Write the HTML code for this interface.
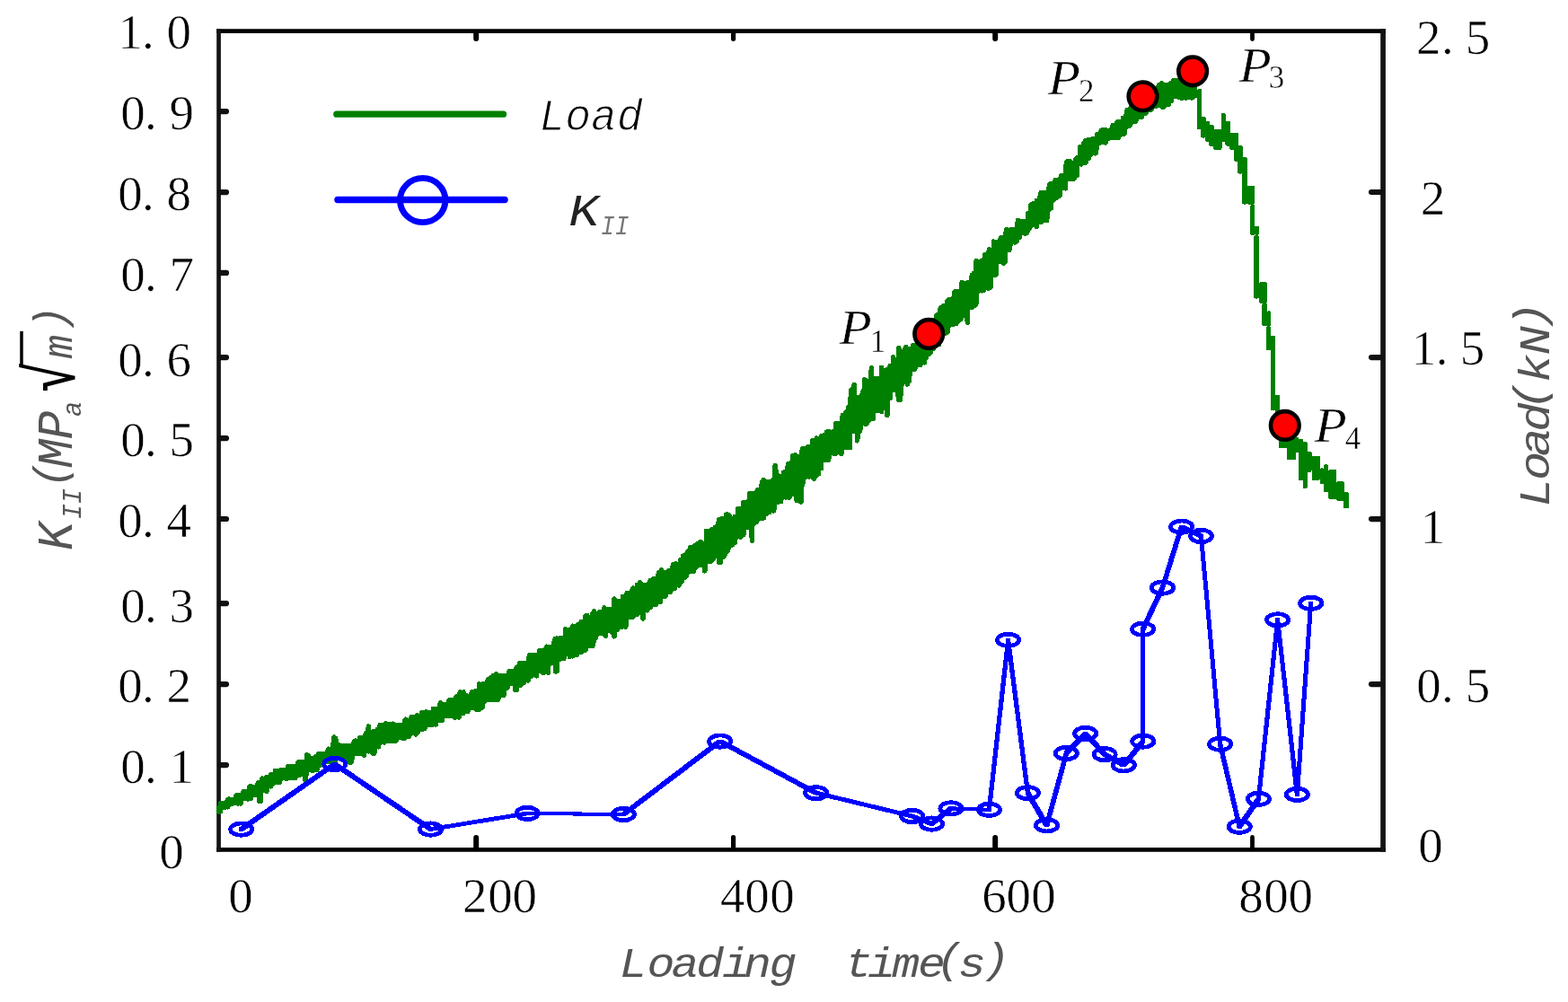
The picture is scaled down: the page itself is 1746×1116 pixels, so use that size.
<!DOCTYPE html>
<html lang="en"><head><meta charset="utf-8"><title>Load and K_II versus loading time</title>
<style>html,body{margin:0;padding:0;background:#fff;overflow:hidden}svg{display:block}.tk{font-family:"Liberation Serif",serif;font-size:55px;fill:#000;text-anchor:middle;stroke:#fff;stroke-width:0.6px}.mono{font-family:"Liberation Mono",monospace;font-style:italic}.pl{font-family:"Liberation Serif",serif;font-style:italic;fill:#000}.ps{font-family:"Liberation Serif",serif;fill:#000}</style></head><body>
<svg width="1746" height="1116" viewBox="0 0 1746 1116">
<rect x="0" y="0" width="1746" height="1116" fill="#fff"/>
<g stroke-linecap="butt" fill="none">
<line x1="241.2" y1="34.6" x2="1542.9" y2="34.6" stroke="#000" stroke-width="4.8"/>
<line x1="241.2" y1="946.4" x2="1542.9" y2="946.4" stroke="#000" stroke-width="4.8"/>
<line x1="243.55" y1="32.2" x2="243.55" y2="948.8" stroke="#141414" stroke-width="4.7"/>
<line x1="1540.05" y1="32.2" x2="1540.05" y2="948.8" stroke="#141414" stroke-width="5.7"/>
</g>
<g stroke="#111" stroke-width="6.2" stroke-linecap="round" fill="none">
<line x1="245" y1="124.1" x2="252.0" y2="124.1"/>
<line x1="245" y1="214.1" x2="252.0" y2="214.1"/>
<line x1="245" y1="303.9" x2="252.0" y2="303.9"/>
<line x1="245" y1="398.1" x2="252.0" y2="398.1"/>
<line x1="245" y1="488.1" x2="252.0" y2="488.1"/>
<line x1="245" y1="578.0" x2="252.0" y2="578.0"/>
<line x1="245" y1="672.1" x2="252.0" y2="672.1"/>
<line x1="245" y1="762.1" x2="252.0" y2="762.1"/>
<line x1="245" y1="852.1" x2="252.0" y2="852.1"/>
<line x1="1527.0" y1="214.0" x2="1538" y2="214.0"/>
<line x1="1527.0" y1="398.1" x2="1538" y2="398.1"/>
<line x1="1527.0" y1="578.1" x2="1538" y2="578.1"/>
<line x1="1527.0" y1="762.1" x2="1538" y2="762.1"/>
</g>
<g stroke="#000" stroke-linecap="round" fill="none">
<line x1="530.2" y1="933.0" x2="530.2" y2="945" stroke-width="6.0"/>
<line x1="530.2" y1="36" x2="530.2" y2="42.9" stroke-width="6.0"/>
<line x1="816.6" y1="932.6" x2="816.6" y2="945" stroke-width="5.2"/>
<line x1="816.6" y1="36" x2="816.6" y2="43.3" stroke-width="5.2"/>
<line x1="1108.2" y1="933.0" x2="1108.2" y2="945" stroke-width="6.0"/>
<line x1="1108.2" y1="36" x2="1108.2" y2="42.9" stroke-width="6.0"/>
<line x1="1394.5" y1="932.4" x2="1394.5" y2="945" stroke-width="4.8"/>
<line x1="1394.5" y1="36" x2="1394.5" y2="43.5" stroke-width="4.8"/>
</g>
<g fill="none" stroke="#008000" stroke-width="5.5" stroke-linejoin="round" stroke-linecap="round" shape-rendering="crispEdges">
<path d="M243.9 899.5 L243.9 904.0 L245.5 903.7 L245.5 894.7 L247.1 895.1 L247.1 898.6 L248.7 899.2 L248.7 895.1 L250.3 894.4 L250.3 898.8 L251.9 898.8 L251.9 895.1 L253.5 890.5 L253.5 898.8 L255.1 895.1 L255.1 890.0 L256.7 890.8 L256.7 894.2 L258.3 895.1 L258.3 890.5 L259.9 890.3 L259.9 894.2 L261.6 894.2 L261.6 889.9 L263.2 885.9 L263.2 894.2 L264.8 894.9 L264.8 885.9 L266.4 885.9 L266.4 894.5 L268.0 894.9 L268.0 885.9 L269.6 885.9 L269.6 890.0 L271.2 889.6 L271.2 881.3 L272.8 881.3 L272.8 889.6 L274.4 889.6 L274.4 881.3 L276.0 881.3 L276.0 890.0 L277.6 889.6 L277.6 876.7 L279.2 875.6 L279.2 889.6 L280.8 885.0 L280.8 876.8 L282.4 876.7 L282.4 885.0 L284.0 885.0 L284.0 876.7 L285.6 876.5 L285.6 885.0 L287.2 884.9 L287.2 872.1 L288.8 872.1 L288.8 892.0 L290.4 892.0 L290.4 872.1 L292.0 867.1 L292.0 880.4 L293.6 880.2 L293.6 867.5 L295.2 867.5 L295.2 880.4 L296.8 881.6 L296.8 866.0 L298.4 867.5 L298.4 875.8 L300.0 875.8 L300.0 867.5 L301.6 862.8 L301.6 875.9 L303.2 871.0 L303.2 862.9 L304.8 862.9 L304.8 872.2 L306.4 871.2 L306.4 858.5 L308.0 858.3 L308.0 871.2 L309.6 871.2 L309.6 858.3 L311.2 858.3 L311.2 871.2 L312.8 866.6 L312.8 857.7 L314.4 857.8 L314.4 866.6 L316.0 866.6 L316.0 858.3 L317.6 857.4 L317.6 866.8 L319.2 867.3 L319.2 858.1 L320.8 853.7 L320.8 866.6 L322.4 866.6 L322.4 853.7 L324.0 853.7 L324.0 866.3 L325.6 866.6 L325.6 853.7 L327.2 854.1 L327.2 866.6 L328.8 866.6 L328.8 853.7 L330.4 854.1 L330.4 862.2 L332.0 862.6 L332.0 849.1 L333.6 849.1 L333.6 863.4 L335.2 862.5 L335.2 849.1 L336.8 849.1 L336.8 862.0 L338.4 862.9 L338.4 849.1 L340.0 848.3 L340.0 868.6 L341.6 859.3 L341.6 840.7 L343.2 841.6 L343.2 857.0 L344.8 857.4 L344.8 844.5 L346.4 844.5 L346.4 857.4 L348.0 858.3 L348.0 844.5 L349.6 844.5 L349.6 857.4 L351.2 857.4 L351.2 843.1 L352.8 844.5 L352.8 857.4 L354.4 852.8 L354.4 839.9 L356.0 839.9 L356.0 852.8 L357.6 848.3 L357.6 839.9 L359.2 839.9 L359.2 848.5 L360.8 848.2 L360.8 839.4 L362.4 839.9 L362.4 848.2 L364.0 848.4 L364.0 839.9 L365.6 834.3 L365.6 848.2 L367.2 848.1 L367.2 835.3 L368.8 834.2 L368.8 848.2 L370.4 848.2 L370.4 835.6 L372.0 820.9 L372.0 850.2 L373.6 852.1 L373.6 822.2 L375.2 830.7 L375.2 843.6 L376.8 843.6 L376.8 829.6 L378.4 830.7 L378.4 843.6 L380.0 843.6 L380.0 830.8 L381.6 830.7 L381.6 843.6 L383.2 843.9 L383.2 830.7 L384.8 830.7 L384.8 843.6 L386.4 845.0 L386.4 830.7 L388.0 830.7 L388.0 843.6 L389.6 849.6 L389.6 830.7 L391.2 830.7 L391.2 849.1 L392.8 839.9 L392.8 830.7 L394.4 826.1 L394.4 839.0 L396.0 839.0 L396.0 825.0 L397.6 826.1 L397.6 839.4 L399.2 838.6 L399.2 826.1 L400.8 821.5 L400.8 839.4 L402.4 838.6 L402.4 821.5 L404.0 821.5 L404.0 839.0 L405.6 840.9 L405.6 821.5 L407.2 817.2 L407.2 835.2 L408.8 834.4 L408.8 818.3 L410.4 808.9 L410.4 836.8 L412.0 834.4 L412.0 816.9 L413.6 816.9 L413.6 829.9 L415.2 839.0 L415.2 814.8 L416.8 816.9 L416.8 839.0 L418.4 830.2 L418.4 816.9 L420.0 812.8 L420.0 830.0 L421.6 831.7 L421.6 812.3 L423.2 807.5 L423.2 827.1 L424.8 826.4 L424.8 807.7 L426.4 807.7 L426.4 824.9 L428.0 827.0 L428.0 807.7 L429.6 806.1 L429.6 824.9 L431.2 825.2 L431.2 807.2 L432.8 806.5 L432.8 825.2 L434.4 825.2 L434.4 807.7 L436.0 807.7 L436.0 825.2 L437.6 825.2 L437.6 806.1 L439.2 807.7 L439.2 825.2 L440.8 825.2 L440.8 807.7 L442.4 807.7 L442.4 820.6 L444.0 821.3 L444.0 807.7 L445.6 807.7 L445.6 820.6 L447.2 820.6 L447.2 807.7 L448.8 807.7 L448.8 822.2 L450.4 822.2 L450.4 803.5 L452.0 801.3 L452.0 820.6 L453.6 820.6 L453.6 803.1 L455.2 803.1 L455.2 820.6 L456.8 817.1 L456.8 802.4 L458.4 798.5 L458.4 816.0 L460.0 816.0 L460.0 798.5 L461.6 798.5 L461.6 816.0 L463.2 817.8 L463.2 798.5 L464.8 796.7 L464.8 816.0 L466.4 811.4 L466.4 798.4 L468.0 798.5 L468.0 812.0 L469.6 812.7 L469.6 793.9 L471.2 793.9 L471.2 811.4 L472.8 811.4 L472.8 793.9 L474.4 792.8 L474.4 806.8 L476.0 807.5 L476.0 793.9 L477.6 794.1 L477.6 806.8 L479.2 806.8 L479.2 793.9 L480.8 793.9 L480.8 806.8 L482.4 806.8 L482.4 789.3 L484.0 789.8 L484.0 806.8 L485.6 806.8 L485.6 789.3 L487.2 789.3 L487.2 802.4 L488.8 802.2 L488.8 789.3 L490.4 782.9 L490.4 802.2 L492.0 802.2 L492.0 784.7 L493.6 784.7 L493.6 797.6 L495.2 797.3 L495.2 784.7 L496.8 784.7 L496.8 797.6 L498.4 797.6 L498.4 784.7 L500.0 780.1 L500.0 797.6 L501.6 797.6 L501.6 780.1 L503.2 780.1 L503.2 797.6 L504.8 797.6 L504.8 780.1 L506.4 780.1 L506.4 799.1 L508.0 798.5 L508.0 775.9 L509.6 775.5 L509.6 797.6 L511.2 798.8 L511.2 773.8 L512.8 770.9 L512.8 792.8 L514.4 793.0 L514.4 771.7 L516.0 770.9 L516.0 794.5 L517.6 788.4 L517.6 775.5 L519.2 774.9 L519.2 788.4 L520.8 792.6 L520.8 775.7 L522.4 775.5 L522.4 788.4 L524.0 788.4 L524.0 775.5 L525.6 770.9 L525.6 787.9 L527.2 788.4 L527.2 770.9 L528.8 770.9 L528.8 787.8 L530.4 790.1 L530.4 769.3 L532.0 770.9 L532.0 789.7 L533.6 790.5 L533.6 761.7 L535.2 762.7 L535.2 788.6 L536.8 788.4 L536.8 762.2 L538.4 761.7 L538.4 779.8 L540.0 781.1 L540.0 761.7 L541.6 761.7 L541.6 779.2 L543.2 779.2 L543.2 757.1 L544.8 757.1 L544.8 779.4 L546.4 779.2 L546.4 755.1 L548.0 757.1 L548.0 779.2 L549.6 779.2 L549.6 752.5 L551.2 752.5 L551.2 779.2 L552.8 779.2 L552.8 750.6 L554.4 752.5 L554.4 779.2 L556.0 774.6 L556.0 752.5 L557.6 752.5 L557.6 774.6 L559.2 774.6 L559.2 752.5 L560.8 752.5 L560.8 774.6 L562.4 765.4 L562.4 752.5 L564.0 752.5 L564.0 766.8 L565.6 765.4 L565.6 752.3 L567.2 747.6 L567.2 760.8 L568.8 760.8 L568.8 747.9 L570.4 747.9 L570.4 760.8 L572.0 762.0 L572.0 747.9 L573.6 747.9 L573.6 768.0 L575.2 768.0 L575.2 743.3 L576.8 743.1 L576.8 762.3 L578.4 760.8 L578.4 738.8 L580.0 738.8 L580.0 763.2 L581.6 760.8 L581.6 738.8 L583.2 738.8 L583.2 760.8 L584.8 751.6 L584.8 738.8 L586.4 739.2 L586.4 751.6 L588.0 758.0 L588.0 738.8 L589.6 729.5 L589.6 751.6 L591.2 753.3 L591.2 729.5 L592.8 729.5 L592.8 751.6 L594.4 751.6 L594.4 729.5 L596.0 729.5 L596.0 751.6 L597.6 752.8 L597.6 729.5 L599.2 729.5 L599.2 747.0 L600.8 747.0 L600.8 724.9 L602.4 725.1 L602.4 747.0 L604.0 748.4 L604.0 724.9 L605.6 724.2 L605.6 749.5 L607.2 747.0 L607.2 724.9 L608.8 720.3 L608.8 747.0 L610.4 749.5 L610.4 720.3 L612.0 720.3 L612.0 737.8 L613.6 738.7 L613.6 720.5 L615.2 720.3 L615.2 738.3 L616.8 737.8 L616.8 715.2 L618.4 711.4 L618.4 747.8 L620.0 747.8 L620.0 711.1 L621.6 711.9 L621.6 733.3 L623.2 734.3 L623.2 711.1 L624.8 711.1 L624.8 733.2 L626.4 733.2 L626.4 711.2 L628.0 711.1 L628.0 733.2 L629.6 728.6 L629.6 700.6 L631.2 701.9 L631.2 728.4 L632.8 728.3 L632.8 702.1 L634.4 701.9 L634.4 731.6 L636.0 728.6 L636.0 701.9 L637.6 697.3 L637.6 730.8 L639.2 727.8 L639.2 697.3 L640.8 697.3 L640.8 728.6 L642.4 729.4 L642.4 697.7 L644.0 695.8 L644.0 724.0 L645.6 724.0 L645.6 697.3 L647.2 692.8 L647.2 726.6 L648.8 724.0 L648.8 693.2 L650.4 692.8 L650.4 724.0 L652.0 724.0 L652.0 685.8 L653.6 685.6 L653.6 719.4 L655.2 719.4 L655.2 688.1 L656.8 688.1 L656.8 719.4 L658.4 719.4 L658.4 688.1 L660.0 683.5 L660.0 719.4 L661.6 711.1 L661.6 680.9 L663.2 684.4 L663.2 710.2 L664.8 705.6 L664.8 683.5 L666.4 684.0 L666.4 705.6 L668.0 705.6 L668.0 681.3 L669.6 683.5 L669.6 705.6 L671.2 705.6 L671.2 683.5 L672.8 676.9 L672.8 705.6 L674.4 708.4 L674.4 678.9 L676.0 679.7 L676.0 703.1 L677.6 701.0 L677.6 678.9 L679.2 678.9 L679.2 701.0 L680.8 703.3 L680.8 679.2 L682.4 678.9 L682.4 703.5 L684.0 708.8 L684.0 667.0 L685.6 669.6 L685.6 701.0 L687.2 701.0 L687.2 669.8 L688.8 669.8 L688.8 696.4 L690.4 696.1 L690.4 669.8 L692.0 669.8 L692.0 698.4 L693.6 696.4 L693.6 664.5 L695.2 665.1 L695.2 696.5 L696.8 698.1 L696.8 665.1 L698.4 660.5 L698.4 687.2 L700.0 687.2 L700.0 660.5 L701.6 660.5 L701.6 687.2 L703.2 687.2 L703.2 660.5 L704.8 655.0 L704.8 687.2 L706.4 682.6 L706.4 655.9 L708.0 655.9 L708.0 682.6 L709.6 684.5 L709.6 651.3 L711.2 651.3 L711.2 682.6 L712.8 678.0 L712.8 649.0 L714.4 651.3 L714.4 678.0 L716.0 689.0 L716.0 651.3 L717.6 651.3 L717.6 678.0 L719.2 678.0 L719.2 651.3 L720.8 651.3 L720.8 679.9 L722.4 673.4 L722.4 651.3 L724.0 646.8 L724.0 676.3 L725.6 674.3 L725.6 646.8 L727.2 644.7 L727.2 673.4 L728.8 673.4 L728.8 646.8 L730.4 644.2 L730.4 673.4 L732.0 668.8 L732.0 646.8 L733.6 637.5 L733.6 668.8 L735.2 670.2 L735.2 637.7 L736.8 634.7 L736.8 664.2 L738.4 664.2 L738.4 637.5 L740.0 637.5 L740.0 664.2 L741.6 663.3 L741.6 637.5 L743.2 637.5 L743.2 659.6 L744.8 659.6 L744.8 635.5 L746.4 636.2 L746.4 659.6 L748.0 655.0 L748.0 637.5 L749.6 628.3 L749.6 655.0 L751.2 655.0 L751.2 628.3 L752.8 628.0 L752.8 650.4 L754.4 650.4 L754.4 628.3 L756.0 628.3 L756.0 652.1 L757.6 645.9 L757.6 623.8 L759.2 623.8 L759.2 647.9 L760.8 642.6 L760.8 619.1 L762.4 619.5 L762.4 643.6 L764.0 641.8 L764.0 619.1 L765.6 614.6 L765.6 636.0 L767.2 636.9 L767.2 614.9 L768.8 609.9 L768.8 636.6 L770.4 636.6 L770.4 609.9 L772.0 608.9 L772.0 636.6 L773.6 632.0 L773.6 607.9 L775.2 610.5 L775.2 632.0 L776.8 626.9 L776.8 605.3 L778.4 605.3 L778.4 627.4 L780.0 629.7 L780.0 603.3 L781.6 604.7 L781.6 627.4 L783.2 627.4 L783.2 605.3 L784.8 605.3 L784.8 635.9 L786.4 622.8 L786.4 591.5 L788.0 592.2 L788.0 622.5 L789.6 622.8 L789.6 591.5 L791.2 591.5 L791.2 625.8 L792.8 622.8 L792.8 589.9 L794.4 591.5 L794.4 622.8 L796.0 618.2 L796.0 587.4 L797.6 587.1 L797.6 618.2 L799.2 618.2 L799.2 585.8 L800.8 578.6 L800.8 626.3 L802.4 626.3 L802.4 580.4 L804.0 577.8 L804.0 618.2 L805.6 620.0 L805.6 577.8 L807.2 577.8 L807.2 618.2 L808.8 613.4 L808.8 573.1 L810.4 573.1 L810.4 613.6 L812.0 604.4 L812.0 574.1 L813.6 577.8 L813.6 604.0 L815.2 607.1 L815.2 578.1 L816.8 578.3 L816.8 605.2 L818.4 604.4 L818.4 575.3 L820.0 577.8 L820.0 595.2 L821.6 597.8 L821.6 566.8 L823.2 567.2 L823.2 595.2 L824.8 598.2 L824.8 568.5 L826.4 566.1 L826.4 596.0 L828.0 595.4 L828.0 559.3 L829.6 559.3 L829.6 585.1 L831.2 587.2 L831.2 559.3 L832.8 558.8 L832.8 586.0 L834.4 587.5 L834.4 550.1 L836.0 550.1 L836.0 586.0 L837.6 602.4 L837.6 550.1 L839.2 549.8 L839.2 584.1 L840.8 580.8 L840.8 550.1 L842.4 548.0 L842.4 581.4 L844.0 576.8 L844.0 545.5 L845.6 545.5 L845.6 576.8 L847.2 577.2 L847.2 545.5 L848.8 536.3 L848.8 577.2 L850.4 576.8 L850.4 534.3 L852.0 536.3 L852.0 572.2 L853.6 572.2 L853.6 536.3 L855.2 536.3 L855.2 570.0 L856.8 570.5 L856.8 536.3 L858.4 536.3 L858.4 567.6 L860.0 567.6 L860.0 535.1 L861.6 536.3 L861.6 569.0 L863.2 558.4 L863.2 518.5 L864.8 532.1 L864.8 558.4 L866.4 559.2 L866.4 529.9 L868.0 531.8 L868.0 558.4 L869.6 558.4 L869.6 531.8 L871.2 530.4 L871.2 553.8 L872.8 553.8 L872.8 526.1 L874.4 527.1 L874.4 553.8 L876.0 553.8 L876.0 527.1 L877.6 516.8 L877.6 553.8 L879.2 553.8 L879.2 517.0 L880.8 515.9 L880.8 549.2 L882.4 550.3 L882.4 507.8 L884.0 508.7 L884.0 549.2 L885.6 549.2 L885.6 506.6 L887.2 508.7 L887.2 557.7 L888.8 556.3 L888.8 509.7 L890.4 508.5 L890.4 558.5 L892.0 559.0 L892.0 508.7 L893.6 499.5 L893.6 540.0 L895.2 530.8 L895.2 499.5 L896.8 499.5 L896.8 530.8 L898.4 530.8 L898.4 499.5 L900.0 497.4 L900.0 530.8 L901.6 530.8 L901.6 499.5 L903.2 499.5 L903.2 530.8 L904.8 530.8 L904.8 490.3 L906.4 490.3 L906.4 533.1 L908.0 530.8 L908.0 491.0 L909.6 488.1 L909.6 521.6 L911.2 528.1 L911.2 490.3 L912.8 490.9 L912.8 521.6 L914.4 521.6 L914.4 485.7 L916.0 485.7 L916.0 512.4 L917.6 512.5 L917.6 484.6 L919.2 485.7 L919.2 511.8 L920.8 512.4 L920.8 481.1 L922.4 481.1 L922.4 512.4 L924.0 505.1 L924.0 481.1 L925.6 481.5 L925.6 504.6 L927.2 503.2 L927.2 481.1 L928.8 481.1 L928.8 505.3 L930.4 505.3 L930.4 471.9 L932.0 471.9 L932.0 503.0 L933.6 503.2 L933.6 471.9 L935.2 472.1 L935.2 503.2 L936.8 505.4 L936.8 472.1 L938.4 462.7 L938.4 498.6 L940.0 498.6 L940.0 462.4 L941.6 459.9 L941.6 498.7 L943.2 498.6 L943.2 462.7 L944.8 453.5 L944.8 498.6 L946.4 498.6 L946.4 452.1 L948.0 434.1 L948.0 480.2 L949.6 480.2 L949.6 434.1 L951.2 428.8 L951.2 480.2 L952.8 480.5 L952.8 444.3 L954.4 442.4 L954.4 490.8 L956.0 480.7 L956.0 442.3 L957.6 444.3 L957.6 480.2 L959.2 471.1 L959.2 444.3 L960.8 435.9 L960.8 471.0 L962.4 471.0 L962.4 422.7 L964.0 423.3 L964.0 472.6 L965.6 471.0 L965.6 435.1 L967.2 433.3 L967.2 468.3 L968.8 466.9 L968.8 435.1 L970.4 409.9 L970.4 466.4 L972.0 466.4 L972.0 421.3 L973.6 421.3 L973.6 457.2 L975.2 457.2 L975.2 421.8 L976.8 421.3 L976.8 456.6 L978.4 457.2 L978.4 421.3 L980.0 421.3 L980.0 457.2 L981.6 458.6 L981.6 409.5 L983.2 421.3 L983.2 449.5 L984.8 448.0 L984.8 421.3 L986.4 412.1 L986.4 450.0 L988.0 462.7 L988.0 412.1 L989.6 412.1 L989.6 443.4 L991.2 443.4 L991.2 407.5 L992.8 407.5 L992.8 434.2 L994.4 434.2 L994.4 397.7 L996.0 400.7 L996.0 433.5 L997.6 434.2 L997.6 400.8 L999.2 402.3 L999.2 434.2 L1000.8 445.3 L1000.8 387.4 L1002.4 402.9 L1002.4 445.3 L1004.0 427.5 L1004.0 402.9 L1005.6 402.9 L1005.6 425.0 L1007.2 425.0 L1007.2 389.1 L1008.8 386.4 L1008.8 425.0 L1010.4 428.0 L1010.4 389.1 L1012.0 389.1 L1012.0 425.0 L1013.6 411.1 L1013.6 389.1 L1015.2 389.1 L1015.2 411.2 L1016.8 411.2 L1016.8 384.5 L1018.4 384.5 L1018.4 411.2 L1020.0 406.6 L1020.0 384.5 L1021.6 384.8 L1021.6 406.6 L1023.2 406.4 L1023.2 384.5 L1024.8 375.3 L1024.8 406.6 L1026.4 397.4 L1026.4 375.3 L1028.0 375.3 L1028.0 398.4 L1029.6 403.8 L1029.6 375.3 L1031.2 375.3 L1031.2 398.3 L1032.8 392.3 L1032.8 375.3 L1034.4 356.9 L1034.4 394.7 L1036.0 392.8 L1036.0 356.9 L1037.6 356.7 L1037.6 388.2 L1039.2 388.2 L1039.2 356.9 L1040.8 356.9 L1040.8 383.6 L1042.4 383.6 L1042.4 352.3 L1044.0 350.5 L1044.0 383.6 L1045.6 383.6 L1045.6 351.2 L1047.2 343.1 L1047.2 369.8 L1048.8 369.8 L1048.8 343.1 L1050.4 340.9 L1050.4 371.0 L1052.0 371.4 L1052.0 343.1 L1053.6 341.7 L1053.6 370.8 L1055.2 369.8 L1055.2 334.7 L1056.8 333.9 L1056.8 360.6 L1058.4 361.7 L1058.4 334.3 L1060.0 333.9 L1060.0 360.6 L1061.6 361.5 L1061.6 333.9 L1063.2 324.8 L1063.2 360.6 L1064.8 360.7 L1064.8 324.8 L1066.4 324.8 L1066.4 358.6 L1068.0 356.0 L1068.0 324.5 L1069.6 323.8 L1069.6 356.0 L1071.2 351.4 L1071.2 314.7 L1072.8 315.5 L1072.8 351.1 L1074.4 351.4 L1074.4 315.5 L1076.0 315.5 L1076.0 351.4 L1077.6 359.5 L1077.6 314.6 L1079.2 314.4 L1079.2 342.2 L1080.8 342.2 L1080.8 315.5 L1082.4 306.3 L1082.4 342.2 L1084.0 337.6 L1084.0 304.8 L1085.6 303.7 L1085.6 340.5 L1087.2 337.6 L1087.2 290.7 L1088.8 291.3 L1088.8 323.8 L1090.4 323.8 L1090.4 292.5 L1092.0 292.5 L1092.0 323.6 L1093.6 323.8 L1093.6 290.1 L1095.2 289.7 L1095.2 323.8 L1096.8 314.6 L1096.8 283.3 L1098.4 283.3 L1098.4 314.6 L1100.0 320.9 L1100.0 283.3 L1101.6 277.8 L1101.6 320.9 L1103.2 319.9 L1103.2 278.8 L1104.8 278.8 L1104.8 305.4 L1106.4 305.5 L1106.4 269.1 L1108.0 269.5 L1108.0 306.3 L1109.6 305.4 L1109.6 269.5 L1111.2 269.5 L1111.2 291.6 L1112.8 291.6 L1112.8 269.6 L1114.4 264.9 L1114.4 291.6 L1116.0 291.6 L1116.0 264.9 L1117.6 264.9 L1117.6 293.3 L1119.2 291.6 L1119.2 264.9 L1120.8 255.4 L1120.8 278.9 L1122.4 277.8 L1122.4 260.3 L1124.0 260.1 L1124.0 278.6 L1125.6 268.6 L1125.6 255.7 L1127.2 255.7 L1127.2 268.6 L1128.8 268.6 L1128.8 256.1 L1130.4 255.7 L1130.4 269.9 L1132.0 268.6 L1132.0 254.8 L1133.6 245.3 L1133.6 264.0 L1135.2 264.0 L1135.2 246.5 L1136.8 246.5 L1136.8 259.4 L1138.4 259.4 L1138.4 246.5 L1140.0 246.5 L1140.0 259.4 L1141.6 260.5 L1141.6 246.5 L1143.2 246.5 L1143.2 259.4 L1144.8 256.3 L1144.8 237.3 L1146.4 237.3 L1146.4 254.8 L1148.0 250.2 L1148.0 227.9 L1149.6 227.7 L1149.6 250.1 L1151.2 250.2 L1151.2 226.5 L1152.8 228.1 L1152.8 250.2 L1154.4 252.6 L1154.4 223.5 L1156.0 223.5 L1156.0 245.6 L1157.6 245.6 L1157.6 221.5 L1159.2 214.3 L1159.2 247.3 L1160.8 245.3 L1160.8 214.3 L1162.4 214.3 L1162.4 245.6 L1164.0 245.6 L1164.0 214.3 L1165.6 214.3 L1165.6 245.6 L1167.2 231.8 L1167.2 214.3 L1168.8 205.1 L1168.8 231.5 L1170.4 231.8 L1170.4 205.1 L1172.0 205.1 L1172.0 223.5 L1173.6 222.6 L1173.6 204.7 L1175.2 200.5 L1175.2 218.0 L1176.8 220.0 L1176.8 201.2 L1178.4 200.5 L1178.4 218.2 L1180.0 218.0 L1180.0 201.0 L1181.6 195.9 L1181.6 208.8 L1183.2 208.8 L1183.2 195.9 L1184.8 195.9 L1184.8 209.2 L1186.4 209.9 L1186.4 186.8 L1188.0 179.9 L1188.0 199.6 L1189.6 199.6 L1189.6 179.9 L1191.2 179.9 L1191.2 199.6 L1192.8 199.5 L1192.8 186.8 L1194.4 186.1 L1194.4 199.6 L1196.0 199.2 L1196.0 186.8 L1197.6 177.5 L1197.6 195.0 L1199.2 195.0 L1199.2 176.1 L1200.8 177.4 L1200.8 181.4 L1202.4 181.0 L1202.4 163.8 L1204.0 163.8 L1204.0 183.1 L1205.6 181.2 L1205.6 163.8 L1207.2 159.1 L1207.2 181.2 L1208.8 181.2 L1208.8 156.7 L1210.4 157.3 L1210.4 176.6 L1212.0 176.6 L1212.0 155.3 L1213.5 159.1 L1213.5 172.0 L1215.1 172.0 L1215.1 158.2 L1216.7 154.5 L1216.7 162.8 L1218.3 163.6 L1218.3 154.5 L1219.9 154.5 L1219.9 170.9 L1221.5 163.2 L1221.5 149.9 L1223.1 149.9 L1223.1 158.2 L1224.7 159.2 L1224.7 149.9 L1226.3 145.3 L1226.3 158.2 L1227.9 158.6 L1227.9 144.5 L1229.5 144.3 L1229.5 158.0 L1231.1 158.9 L1231.1 144.8 L1232.7 145.3 L1232.7 153.6 L1234.3 154.2 L1234.3 145.3 L1235.9 145.6 L1235.9 153.6 L1237.5 153.6 L1237.5 145.3 L1239.1 139.4 L1239.1 153.6 L1240.7 153.6 L1240.7 140.8 L1242.3 139.3 L1242.3 153.6 L1243.9 153.6 L1243.9 136.1 L1245.5 136.1 L1245.5 153.6 L1247.1 149.0 L1247.1 136.1 L1248.7 136.1 L1248.7 149.0 L1250.3 149.0 L1250.3 131.5 L1251.9 131.7 L1251.9 149.0 L1253.5 139.8 L1253.5 131.5 L1255.1 122.3 L1255.1 139.8 L1256.7 139.8 L1256.7 122.3 L1258.3 121.0 L1258.3 140.0 L1259.9 135.2 L1259.9 117.7 L1261.5 117.6 L1261.5 135.2 L1263.1 135.2 L1263.1 117.7 L1264.7 117.7 L1264.7 135.2 L1266.3 130.6 L1266.3 117.7 L1267.9 113.1 L1267.9 130.6 L1269.5 130.6 L1269.5 113.1 L1271.1 113.5 L1271.1 130.6 L1272.7 126.5 L1272.7 113.1 L1274.3 113.1 L1274.3 126.1 L1275.9 126.0 L1275.9 113.1 L1277.5 112.2 L1277.5 121.4 L1279.1 121.4 L1279.1 113.1 L1280.7 107.5 L1280.7 122.5 L1282.3 121.3 L1282.3 109.0 L1283.9 108.2 L1283.9 116.8 L1285.5 116.8 L1285.5 108.5 L1287.1 103.9 L1287.1 118.2 L1288.7 117.5 L1288.7 102.9 L1290.3 94.8 L1290.3 116.9 L1291.9 116.8 L1291.9 94.2 L1293.5 93.0 L1293.5 116.8 L1295.1 119.5 L1295.1 94.8 L1296.7 94.8 L1296.7 116.8 L1298.3 116.8 L1298.3 95.5 L1299.9 94.8 L1299.9 116.8 L1301.5 116.4 L1301.5 94.8 L1303.1 93.0 L1303.1 112.2 L1304.7 112.2 L1304.7 94.8 L1306.3 90.1 L1306.3 107.6 L1307.9 107.6 L1307.9 90.1 L1309.5 90.1 L1309.5 107.6 L1311.1 107.6 L1311.1 90.1 L1312.7 90.1 L1312.7 108.1 L1314.3 107.6 L1314.3 90.1 L1315.9 90.1 L1315.9 109.3 L1317.5 103.0 L1317.5 89.3 L1319.1 88.6 L1319.1 103.0 L1320.7 109.1 L1320.7 90.1 L1322.3 90.1 L1322.3 108.7 L1323.9 107.6 L1323.9 90.1 L1325.5 89.1 L1325.5 107.6 L1327.1 109.1 L1327.1 90.2 L1328.7 82.6 L1328.7 108.0 L1330.3 107.0 L1330.3 90.1"/>
</g>
<g fill="#008000" stroke="none" shape-rendering="crispEdges">
<rect x="1333.0" y="99.2" width="5.2" height="44.9" rx="1.6" ry="1.6"/>
<rect x="1337.3" y="130.3" width="5.6" height="23.2" rx="1.6" ry="1.6"/>
<rect x="1342.0" y="135.0" width="5.2" height="22.8" rx="1.6" ry="1.6"/>
<rect x="1346.3" y="139.3" width="5.6" height="23.7" rx="1.6" ry="1.6"/>
<rect x="1351.1" y="144.1" width="9.4" height="22.8" rx="1.6" ry="1.6"/>
<rect x="1360.1" y="126.0" width="4.7" height="31.8" rx="1.6" ry="1.6"/>
<rect x="1364.4" y="135.0" width="5.6" height="27.6" rx="1.6" ry="1.6"/>
<rect x="1369.1" y="148.0" width="9.9" height="18.9" rx="1.6" ry="1.6"/>
<rect x="1373.9" y="148.0" width="5.1" height="31.8" rx="1.6" ry="1.6"/>
<rect x="1378.2" y="162.1" width="5.5" height="31.4" rx="1.6" ry="1.6"/>
<rect x="1382.9" y="175.0" width="5.7" height="52.5" rx="1.6" ry="1.6"/>
<rect x="1388.0" y="207.0" width="9.2" height="20.5" rx="1.6" ry="1.6"/>
<rect x="1392.4" y="227.5" width="4.8" height="34.5" rx="1.6" ry="1.6"/>
<rect x="1397.2" y="251.6" width="4.6" height="10.4" rx="1.6" ry="1.6"/>
<rect x="1396.3" y="262.0" width="5.5" height="70.5" rx="1.6" ry="1.6"/>
<rect x="1401.8" y="314.4" width="9.2" height="23.2" rx="1.6" ry="1.6"/>
<rect x="1405.3" y="337.6" width="5.7" height="25.8" rx="1.6" ry="1.6"/>
<rect x="1411.0" y="346.2" width="3.9" height="17.2" rx="1.6" ry="1.6"/>
<rect x="1410.0" y="363.4" width="4.9" height="26.9" rx="1.6" ry="1.6"/>
<rect x="1414.9" y="373.7" width="5.0" height="16.6" rx="1.6" ry="1.6"/>
<rect x="1414.6" y="390.0" width="5.3" height="67.0" rx="1.6" ry="1.6"/>
<rect x="1419.9" y="440.0" width="5.0" height="26.0" rx="1.6" ry="1.6"/>
<rect x="1424.2" y="486.0" width="8.7" height="13.2" rx="1.6" ry="1.6"/>
<rect x="1432.9" y="488.0" width="10.1" height="24.0" rx="1.6" ry="1.6"/>
<rect x="1443.0" y="486.5" width="3.4" height="17.5" rx="1.6" ry="1.6"/>
<rect x="1445.7" y="489.0" width="5.3" height="46.0" rx="1.6" ry="1.6"/>
<rect x="1451.0" y="492.0" width="4.8" height="52.2" rx="1.6" ry="1.6"/>
<rect x="1455.8" y="502.6" width="4.7" height="23.4" rx="1.6" ry="1.6"/>
<rect x="1460.5" y="508.0" width="9.4" height="26.8" rx="1.6" ry="1.6"/>
<rect x="1469.9" y="521.4" width="4.7" height="17.5" rx="1.6" ry="1.6"/>
<rect x="1473.9" y="517.4" width="5.4" height="30.9" rx="1.6" ry="1.6"/>
<rect x="1479.3" y="522.7" width="8.7" height="33.6" rx="1.6" ry="1.6"/>
<rect x="1488.0" y="536.2" width="8.8" height="21.5" rx="1.6" ry="1.6"/>
<rect x="1496.1" y="548.3" width="5.8" height="18.1" rx="1.6" ry="1.6"/>
</g>
<g fill="#0000ff" stroke="none" shape-rendering="crispEdges">
<polygon points="266.4,921.5 370.4,849.0 375.1,849.0 375.1,853.0 271.1,925.6 266.4,925.6"/>
<polygon points="370.4,849.0 375.1,849.0 481.9,921.5 481.9,925.6 477.2,925.6 370.4,853.0"/>
<polygon points="477.2,921.5 584.8,903.9 589.5,903.9 589.5,908.0 481.9,925.6 477.2,925.6"/>
<polygon points="584.8,903.9 589.5,903.9 696.6,905.0 696.6,909.0 692.0,909.0 584.8,908.0"/>
<polygon points="692.0,905.0 799.4,823.5 804.0,823.5 804.0,827.6 696.6,909.0 692.0,909.0"/>
<polygon points="799.4,823.5 804.0,823.5 911.0,881.1 911.0,885.2 906.4,885.2 799.4,827.6"/>
<polygon points="906.4,881.1 911.0,881.1 1018.0,907.0 1018.0,911.0 1013.4,911.0 906.4,885.2"/>
<polygon points="1013.4,907.0 1018.0,907.0 1039.8,915.5 1039.8,919.6 1035.0,919.6 1013.4,911.0"/>
<polygon points="1035.0,915.5 1056.5,898.4 1061.2,898.4 1061.2,902.5 1039.8,919.6 1035.0,919.6"/>
<polygon points="1056.5,898.4 1061.2,898.4 1103.8,899.8 1103.8,903.9 1099.0,903.9 1056.5,902.5"/>
<polygon points="1099.0,899.8 1120.2,710.8 1125.0,710.8 1125.0,714.9 1103.8,903.9 1099.0,903.9"/>
<polygon points="1120.2,710.8 1125.0,710.8 1146.8,881.1 1146.8,885.2 1142.0,885.2 1120.2,714.9"/>
<polygon points="1142.0,881.1 1146.8,881.1 1168.0,917.2 1168.0,921.4 1163.2,921.4 1142.0,885.2"/>
<polygon points="1163.2,917.2 1185.0,837.0 1189.8,837.0 1189.8,841.0 1168.0,921.4 1163.2,921.4"/>
<polygon points="1185.0,837.0 1206.2,815.0 1211.0,815.0 1211.0,819.0 1189.8,841.0 1185.0,841.0"/>
<polygon points="1206.2,815.0 1211.0,815.0 1232.5,838.1 1232.5,842.2 1227.8,842.2 1206.2,819.0"/>
<polygon points="1227.8,838.1 1232.5,838.1 1253.7,850.2 1253.7,854.4 1249.0,854.4 1227.8,842.2"/>
<polygon points="1249.0,850.2 1270.5,823.5 1275.2,823.5 1275.2,827.6 1253.7,854.4 1249.0,854.4"/>
<polygon points="1270.3,698.6 1275.0,698.6 1275.2,823.5 1275.2,827.6 1270.5,827.6 1270.3,702.8"/>
<polygon points="1270.3,698.6 1292.2,652.5 1296.8,652.5 1296.8,656.6 1275.0,702.8 1270.3,702.8"/>
<polygon points="1292.2,652.5 1313.3,584.6 1318.0,584.6 1318.0,588.8 1296.8,656.6 1292.2,656.6"/>
<polygon points="1313.3,584.6 1318.0,584.6 1339.8,595.0 1339.8,599.0 1335.2,599.0 1313.3,588.8"/>
<polygon points="1335.2,595.0 1339.8,595.0 1361.0,826.6 1361.0,830.8 1356.3,830.8 1335.2,599.0"/>
<polygon points="1356.3,826.6 1361.0,826.6 1382.5,918.6 1382.5,922.8 1377.8,922.8 1356.3,830.8"/>
<polygon points="1377.8,918.6 1399.0,887.8 1403.8,887.8 1403.8,891.9 1382.5,922.8 1377.8,922.8"/>
<polygon points="1399.0,887.8 1420.3,688.4 1425.0,688.4 1425.0,692.5 1403.8,891.9 1399.0,891.9"/>
<polygon points="1420.3,688.4 1425.0,688.4 1446.8,882.9 1446.8,887.0 1442.0,887.0 1420.3,692.5"/>
<polygon points="1442.0,882.9 1457.3,669.8 1462.0,669.8 1462.0,673.9 1446.8,887.0 1442.0,887.0"/>
</g>
<g fill="none" stroke="#0000ff" stroke-width="4.8" shape-rendering="crispEdges">
<ellipse cx="268.7" cy="923.6" rx="12.1" ry="6.7"/>
<ellipse cx="372.8" cy="851.0" rx="12.1" ry="6.7"/>
<ellipse cx="479.6" cy="923.6" rx="12.1" ry="6.7"/>
<ellipse cx="587.1" cy="905.9" rx="12.1" ry="6.7"/>
<ellipse cx="694.3" cy="907.0" rx="12.1" ry="6.7"/>
<ellipse cx="801.7" cy="825.6" rx="12.1" ry="6.7"/>
<ellipse cx="908.7" cy="883.2" rx="12.1" ry="6.7"/>
<ellipse cx="1015.7" cy="909.0" rx="12.1" ry="6.7"/>
<ellipse cx="1037.4" cy="917.6" rx="12.1" ry="6.7"/>
<ellipse cx="1058.9" cy="900.4" rx="12.1" ry="6.7"/>
<ellipse cx="1101.4" cy="901.8" rx="12.1" ry="6.7"/>
<ellipse cx="1122.6" cy="712.8" rx="12.1" ry="6.7"/>
<ellipse cx="1144.4" cy="883.2" rx="12.1" ry="6.7"/>
<ellipse cx="1165.6" cy="919.3" rx="12.1" ry="6.7"/>
<ellipse cx="1187.4" cy="839.0" rx="12.1" ry="6.7"/>
<ellipse cx="1208.6" cy="817.0" rx="12.1" ry="6.7"/>
<ellipse cx="1230.1" cy="840.2" rx="12.1" ry="6.7"/>
<ellipse cx="1251.3" cy="852.3" rx="12.1" ry="6.7"/>
<ellipse cx="1272.8" cy="825.6" rx="12.1" ry="6.7"/>
<ellipse cx="1272.7" cy="700.7" rx="12.1" ry="6.7"/>
<ellipse cx="1294.5" cy="654.6" rx="12.1" ry="6.7"/>
<ellipse cx="1315.7" cy="586.7" rx="12.1" ry="6.7"/>
<ellipse cx="1337.5" cy="597.0" rx="12.1" ry="6.7"/>
<ellipse cx="1358.7" cy="828.7" rx="12.1" ry="6.7"/>
<ellipse cx="1380.2" cy="920.7" rx="12.1" ry="6.7"/>
<ellipse cx="1401.4" cy="889.8" rx="12.1" ry="6.7"/>
<ellipse cx="1422.7" cy="690.4" rx="12.1" ry="6.7"/>
<ellipse cx="1444.4" cy="884.9" rx="12.1" ry="6.7"/>
<ellipse cx="1459.7" cy="671.8" rx="12.1" ry="6.7"/>
</g>
<text class="tk" x="145.1 164.9 199.3" y="53.8">1.0</text>
<text class="tk" x="147.9 167.9 202.3" y="143.8">0.9</text>
<text class="tk" x="145.1 164.9 199.3" y="233.9">0.8</text>
<text class="tk" x="147.9 167.9 202.3" y="323.8">0.7</text>
<text class="tk" x="145.1 164.9 199.3" y="419.0">0.6</text>
<text class="tk" x="147.9 167.9 202.3" y="507.9">0.5</text>
<text class="tk" x="145.1 164.9 199.3" y="598.2">0.4</text>
<text class="tk" x="147.9 167.9 202.3" y="693.3">0.3</text>
<text class="tk" x="145.1 164.9 199.3" y="782.4">0.2</text>
<text class="tk" x="147.9 167.9 202.3" y="872.4">0.1</text>
<text class="tk" x="191.0" y="967.0">0</text>
<text class="tk" x="1590.7 1611.8 1645.5" y="60.1">2.5</text>
<text class="tk" x="1595.6" y="238.6">2</text>
<text class="tk" x="1585.4 1605.7 1639.6" y="406.2">1.5</text>
<text class="tk" x="1595.5" y="604.8">1</text>
<text class="tk" x="1591.0 1611.8 1645.5" y="782.1">0.5</text>
<text class="tk" x="1593.0" y="959.8">0</text>
<text class="tk" x="268.0" y="1016.0">0</text>
<text class="tk" x="528.8 557.0 584.2" y="1016.0">200</text>
<text class="tk" x="815.8 843.0 871.0" y="1016.0">400</text>
<text class="tk" x="1106.9 1134.2 1162.0" y="1016.0">600</text>
<text class="tk" x="1392.9 1421.0 1448.2" y="1016.0">800</text>
<line x1="374.8" y1="127.2" x2="560.5" y2="127.2" stroke="#008000" stroke-width="7.3" stroke-linecap="round"/>
<line x1="375.9" y1="222.5" x2="562.1" y2="222.5" stroke="#0000ff" stroke-width="7.3" stroke-linecap="round"/>
<ellipse cx="470.7" cy="223.0" rx="25.2" ry="24.6" fill="none" stroke="#0000ff" stroke-width="6.9"/>
<text class="mono" transform="translate(600.5,144.8) scale(0.97,1)" font-size="49.5" fill="#000" stroke="#fff" stroke-width="1.1">Load</text>
<text class="mono" transform="translate(633.5,250.6) scale(1.12,1)" font-size="50" fill="#222">K</text>
<text class="mono" transform="translate(669,260.5) scale(0.87,1)" font-size="30" fill="#777">II</text>
<text class="mono" fill="#555" transform="scale(1.12,1)" xml:space="preserve" x="615.9 643.3 667.5 692.2 718.2 739.3 764.8 803.6 825.9 840.0 862.8 886.9 912.4 930.5 952.7 976.5" y="1088.5 1088.5 1088.5 1088.5 1088.5 1088.5 1088.5 1088.5 1088.5 1088.5 1088.5 1088.5 1088.5 1083.0 1088.5 1083.0" font-size="46">Loading  time(s)</text>
<g transform="translate(1725,562.3) rotate(-90)"><text class="mono" fill="#555" transform="scale(1.12,1)" x="-2.3 24.3 48.1 72.8 94.2 121.2 149.2 173.4" y="0.0 0.0 0.0 0.0 -6.5 0.0 0.0 -6.5" font-size="48">Load(kN)</text></g>
<g transform="translate(79.6,613) rotate(-90)"><text class="mono" fill="#555" transform="scale(0.95,1)"><tspan x="-0.1" y="0.0" font-size="56">K</tspan><tspan x="36.7 54.5" y="10.1 10.1" font-size="30">II</tspan><tspan x="73.3" y="-7.3" font-size="50">(</tspan><tspan x="96.9 130.0" y="0.0 0.0" font-size="56">MP</tspan><tspan x="156.9" y="10.7" font-size="30">a</tspan><tspan x="224.9" y="0.0" font-size="46">m</tspan><tspan x="256.8" y="-7.3" font-size="50">)</tspan></text>
<text transform="translate(177.2,2.4) scale(0.543,0.758)" font-family="'Liberation Serif','DejaVu Sans',serif" font-size="100" fill="#000" stroke="#000" stroke-width="2.5">√</text>
<line x1="205.5" y1="-55.6" x2="244.1" y2="-55.6" stroke="#000" stroke-width="3.5"/>
</g>
<circle cx="1034.2" cy="371.9" r="15.8" fill="#ff0000" stroke="#000" stroke-width="4.6"/>
<circle cx="1272.5" cy="107.3" r="15.8" fill="#ff0000" stroke="#000" stroke-width="4.6"/>
<circle cx="1328.1" cy="79.3" r="15.8" fill="#ff0000" stroke="#000" stroke-width="4.6"/>
<circle cx="1430.8" cy="473.9" r="15.8" fill="#ff0000" stroke="#000" stroke-width="4.6"/>
<text class="pl" transform="translate(934.7,382.6) scale(1.07,1)" font-size="55" stroke="#fff" stroke-width="0.5">P</text>
<text class="ps" x="977.5" y="391.5" font-size="35" text-anchor="middle" stroke="#fff" stroke-width="0.4">1</text>
<text class="pl" transform="translate(1166.9,105.1) scale(1.07,1)" font-size="55" stroke="#fff" stroke-width="0.5">P</text>
<text class="ps" x="1209.7" y="113.3" font-size="35" text-anchor="middle" stroke="#fff" stroke-width="0.4">2</text>
<text class="pl" transform="translate(1379.7,91.1) scale(1.07,1)" font-size="55" stroke="#fff" stroke-width="0.5">P</text>
<text class="ps" x="1421.4" y="98.3" font-size="35" text-anchor="middle" stroke="#fff" stroke-width="0.4">3</text>
<text class="pl" transform="translate(1463.8,492.0) scale(1.07,1)" font-size="55" stroke="#fff" stroke-width="0.5">P</text>
<text class="ps" x="1506.6" y="500.0" font-size="35" text-anchor="middle" stroke="#fff" stroke-width="0.4">4</text>
</svg></body></html>
